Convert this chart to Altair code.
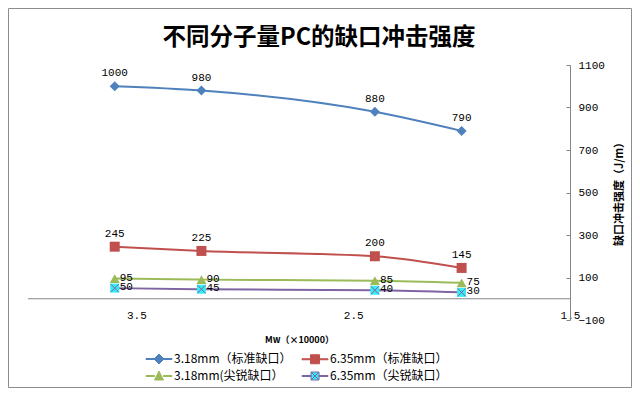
import altair as alt
import pandas as pd

# ---- data ----
mw = [3.6, 3.2, 2.4, 2.0]
series_names = ["3.18mm（标准缺口）", "6.35mm（标准缺口）", "3.18mm(尖锐缺口）", "6.35mm（尖锐缺口）"]
s_318_std = [1000, 980, 880, 790]
s_635_std = [245, 225, 200, 145]
s_318_sharp = [95, 90, 85, 75]
s_635_sharp = [50, 45, 40, 30]
x_ticks = [3.5, 2.5, 1.5]
y_ticks = [-100, 100, 300, 500, 700, 900, 1100]

# ---- styles ----
line_colors = ["#4F81BD", "#C0504D", "#9BBB59", "#8064A2"]
fill_colors = ["#4F81BD", "#C0504D", "#9BBB59", "#36EDF7"]
marker_shapes = ["diamond", "square", "triangle-up", "square"]
legend_paths = [
    "M-2.6,-0.1H-1V0.1H-2.6Z M1,-0.1H2.6V0.1H1Z M0,-1L1,0L0,1L-1,0Z",
    "M-2.6,-0.1H-0.9V0.1H-2.6Z M0.9,-0.1H2.6V0.1H0.9Z M-0.9,-0.9H0.9V0.9H-0.9Z",
    "M-2.6,-0.1H-0.9V0.1H-2.6Z M0.9,-0.1H2.6V0.1H0.9Z M0,-1L0.9,0.8H-0.9Z",
    "M-2.6,-0.1H-0.8V0.1H-2.6Z M0.8,-0.1H2.6V0.1H0.8Z M-0.8,-0.8H0.8V0.8H-0.8Z M-0.8,-0.8L0.8,0.8M-0.8,0.8L0.8,-0.8",
]
CJK = "Noto Sans CJK SC"
MONO = "Liberation Mono"
GRAY = "#868686"

rows = []
for name, vals in zip(series_names, [s_318_std, s_635_std, s_318_sharp, s_635_sharp]):
    for xv, yv in zip(mw, vals):
        rows.append({"series": name, "mw": xv, "v": yv})
df = pd.DataFrame(rows)

x_scale = alt.Scale(domain=[1.5, 4.0], reverse=True, nice=False, zero=False)
y_scale = alt.Scale(domain=[-100, 1100], nice=False, zero=False)
fill_scale = alt.Scale(domain=series_names, range=fill_colors)
stroke_scale = alt.Scale(domain=series_names, range=line_colors)
shape_scale = alt.Scale(domain=series_names, range=legend_paths)

x_axis = alt.Axis(values=x_ticks, format=".1f", domain=False, ticks=False, grid=False,
                  labelPadding=-2, labelBaseline="alphabetic", labelFont=MONO, labelFontSize=11,
                  labelColor="black", labelFlush=False,
                  title="Mw（×10000）", titleFont=CJK, titleFontSize=9, titleFontWeight="bold",
                  titleColor="black", titleY=19, titleBaseline="middle")
y_axis_main = alt.Axis(orient="right", values=y_ticks, format="d", grid=False, ticks=False,
                       domainColor=GRAY, labelPadding=8, labelFont=MONO, labelFontSize=11,
                       labelColor="black", labelFlush=False,
                       title="缺口冲击强度（J/m）", titleFont=CJK, titleFontSize=11,
                       titleFontWeight="bold", titleColor="black", titleAngle=270,
                       titleX=49, titleY=126, titleAlign="center", titleBaseline="middle")
y_axis_ticks = alt.Axis(orient="left", offset=-542, values=y_ticks, labels=False, domain=False,
                        ticks=True, tickSize=4, tickColor=GRAY, grid=False, title=None)

leg = alt.Legend(title=None, orient="none", legendX=125, legendY=288, columns=2,
                 direction="horizontal",
                 symbolSize=100, symbolStrokeWidth=1, symbolOpacity=1, labelOffset=9,
                 columnPadding=8, rowPadding=3, labelFont=CJK, labelFontSize=12,
                 labelColor="black", labelLimit=300)

X = alt.X("mw:Q", scale=x_scale, axis=x_axis)
base = alt.Chart(df)

# zero line (horizontal axis line)
zero = alt.Chart(pd.DataFrame({"z": [0]})).mark_rule(color=GRAY, strokeWidth=1).encode(
    y=alt.Y("z:Q", scale=y_scale, axis=None))

lines = base.mark_line(interpolate="monotone", strokeWidth=2).encode(
    x=X,
    y=alt.Y("v:Q", scale=y_scale, axis=y_axis_main),
    stroke=alt.Stroke("series:N", scale=stroke_scale, legend=leg),
    detail="series:N",
)

markers = []
for i, name in enumerate(series_names):
    m = base.transform_filter(alt.datum.series == name).mark_point(
        shape=marker_shapes[i], filled=True, size=100 if i < 3 else 81,
        color=fill_colors[i], opacity=1).encode(
        x=X, y=alt.Y("v:Q", scale=y_scale, axis=None))
    markers.append(m)
cross = base.transform_filter(alt.datum.series == series_names[3]).mark_point(
    shape="M-1,-1L1,1M-1,1L1,-1", filled=False, size=64, color=line_colors[3],
    strokeWidth=1, opacity=1).encode(x=X, y=alt.Y("v:Q", scale=y_scale, axis=None))

labels_above = base.transform_filter(
    alt.FieldOneOfPredicate(field="series", oneOf=series_names[:2])).mark_text(
    font=MONO, fontSize=11, color="black", baseline="alphabetic", align="center", dy=-10).encode(
    x=X, y=alt.Y("v:Q", scale=y_scale, axis=None), text="v:Q")
labels_right = base.transform_filter(
    alt.FieldOneOfPredicate(field="series", oneOf=series_names[2:])).mark_text(
    font=MONO, fontSize=11, color="black", baseline="middle", align="left", dx=5, dy=-1).encode(
    x=X, y=alt.Y("v:Q", scale=y_scale, axis=None), text="v:Q")

legend_layer = base.mark_point(filled=True, opacity=0).encode(
    x=X,
    y=alt.Y("v:Q", scale=y_scale, axis=y_axis_ticks),
    fill=alt.Fill("series:N", scale=fill_scale, legend=leg),
    stroke=alt.Stroke("series:N", scale=stroke_scale, legend=leg),
    shape=alt.Shape("series:N", scale=shape_scale, legend=leg),
)

border = alt.Chart(pd.DataFrame({"b": [0]})).mark_rect(
    fill="transparent", stroke="#8c8c8c", strokeWidth=1).encode(
    x=alt.value(-19.5), x2=alt.value(603.5), y=alt.value(-56.5), y2=alt.value(322.5))

chart = alt.layer(
    border, zero, lines, *markers, cross, labels_above, labels_right, legend_layer
).resolve_axis(y="independent").properties(
    width=542, height=255,
    padding={"left": 20, "top": 57, "right": 62, "bottom": 68},
    autosize=alt.AutoSizeParams(type="none"),
    background="white",
    title=alt.Title("不同分子量PC的缺口冲击强度", font=CJK, fontSize=23.5, fontWeight="bold",
                    color="black", anchor="middle", dx=20, dy=45),
).configure_view(strokeWidth=0)

chart.save("out.html", embed_options={"renderer": "svg", "actions": False})
